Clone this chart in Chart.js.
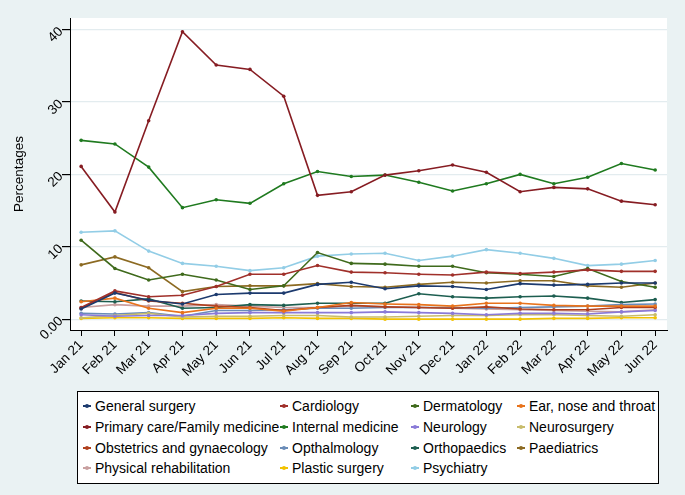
<!DOCTYPE html>
<html>
<head>
<meta charset="utf-8">
<script src="https://cdn.jsdelivr.net/npm/chart.js@4"></script>
<style>
  body { margin: 0; background: #eaf2f3; }
  #wrap { position: relative; width: 685px; height: 495px; background: #eaf2f3; font-family: "Liberation Sans", Arial, sans-serif; }
  #legend { position: absolute; left: 77px; top: 391px; width: 582px; height: 93px; background: #fff; border: 1px solid #000; box-sizing: border-box; }
  .item { position: absolute; font-size: 14px; color: #000; white-space: nowrap; line-height: 16px; }
  .key { display: inline-block; position: relative; width: 8px; height: 16px; vertical-align: top; margin-right: 4px; }
  .key i { position: absolute; left: 0; top: 7px; width: 8px; height: 1.5px; }
  .key b { position: absolute; left: 2px; top: 6px; width: 4px; height: 4px; border-radius: 2px; }
</style>
</head>
<body>
<div id="wrap">
  <canvas id="chart" width="685" height="495"></canvas>
  <div id="legend"></div>
</div>
<script>
// mesi sull'asse x
var months = ['Jan 21','Feb 21','Mar 21','Apr 21','May 21','Jun 21','Jul 21','Aug 21','Sep 21',
              'Oct 21','Nov 21','Dec 21','Jan 22','Feb 22','Mar 22','Apr 22','May 22','Jun 22'];
var yTicks = [0, 10, 20, 30, 40];

var generalSurgery = [1.4,3.6,2.6,2.1,3.4,3.6,3.6,4.8,5.1,4.2,4.6,4.5,4.1,4.9,4.7,4.8,5.0,5.0];
var cardiology     = [1.6,3.9,3.1,3.3,4.5,6.2,6.2,7.4,6.5,6.4,6.2,6.1,6.5,6.3,6.5,6.8,6.6,6.6];
var dermatology    = [10.9,7.0,5.4,6.2,5.4,4.1,4.6,9.2,7.7,7.6,7.3,7.3,6.4,6.2,5.9,7.0,5.2,4.4];
var ent            = [2.4,2.9,1.5,0.9,1.5,1.5,1.1,1.6,2.3,2.1,2.0,1.8,2.2,2.2,1.9,1.8,1.8,1.8];
var primaryCare    = [21.1,14.8,27.4,39.7,35.1,34.5,30.8,17.1,17.6,19.9,20.5,21.3,20.3,17.6,18.2,18.0,16.3,15.8];
var internalMed    = [24.7,24.2,21.0,15.4,16.5,16.0,18.7,20.4,19.7,19.9,18.9,17.7,18.7,20.0,18.7,19.6,21.5,20.6];
var neurology      = [0.6,0.4,0.5,0.5,0.8,0.9,0.9,0.9,0.9,1.0,0.9,0.8,0.6,0.8,0.8,0.7,1.0,1.2];
var neurosurgery   = [0.2,0.5,0.8,0.3,0.4,0.4,0.5,0.5,0.3,0.3,0.4,0.5,0.5,0.6,0.6,0.5,0.4,0.6];
var obstetrics     = [1.5,3.7,2.5,2.2,1.8,1.6,1.2,1.6,1.9,1.7,1.6,1.5,1.7,1.4,1.3,1.3,1.6,1.6];
var opthalmology   = [0.8,0.7,0.9,0.4,1.2,1.2,1.3,1.5,1.5,1.6,1.6,1.6,1.5,1.6,1.7,1.8,2.0,2.1];
var orthopaedics   = [2.5,2.4,2.8,1.5,1.6,2.0,1.9,2.2,2.2,2.2,3.5,3.1,2.9,3.1,3.2,2.9,2.3,2.7];
var paediatrics    = [7.5,8.6,7.1,3.8,4.5,4.6,4.6,4.9,4.5,4.4,4.8,5.1,5.0,5.3,5.3,4.6,4.4,5.0];
var physRehab      = [1.6,2.0,1.8,1.8,2.0,1.8,1.6,1.6,1.8,1.7,1.6,1.5,1.4,1.3,1.2,1.1,1.0,1.3];
var plasticSurgery = [0.1,0.2,0.2,0.1,0.1,0.1,0.2,0.1,0.1,0.0,0.0,0.0,0.0,0.0,0.1,0.1,0.2,0.2];
var psychiatry     = [12.0,12.2,9.4,7.7,7.3,6.7,7.1,8.7,9.0,9.1,8.1,8.7,9.6,9.1,8.4,7.4,7.6,8.1];

var series = [
  ['General surgery', generalSurgery, '#1c3a6e'],
  ['Cardiology', cardiology, '#a0302a'],
  ['Dermatology', dermatology, '#3f6a1c'],
  ['Ear, nose and throat', ent, '#e8731c'],
  ['Primary care/Family medicine', primaryCare, '#861c22'],
  ['Internal medicine', internalMed, '#1f7a1f'],
  ['Neurology', neurology, '#8a7ad8'],
  ['Neurosurgery', neurosurgery, '#c8bc6c'],
  ['Obstetrics and gynaecology', obstetrics, '#b0401e'],
  ['Opthalmology', opthalmology, '#6a8cb8'],
  ['Orthopaedics', orthopaedics, '#1d5e50'],
  ['Paediatrics', paediatrics, '#8c6a22'],
  ['Physical rehabilitation', physRehab, '#c9a0a0'],
  ['Plastic surgery', plasticSurgery, '#f2c200'],
  ['Psychiatry', psychiatry, '#92cde6']
];

var FONT = '"Liberation Sans", Arial, sans-serif';

function buildDatasets(){
  var datasets = [];
  for (var i = 0; i < series.length; i++) {
    var vals = series[i][1];
    var pts = [];
    for (var j = 0; j < vals.length; j++) {
      pts.push({x: j, y: vals[j]});
    }
    datasets.push({
      label: series[i][0],
      data: pts,
      borderColor: series[i][2],
      backgroundColor: series[i][2],
      borderWidth: 1.6,
      pointRadius: 1.8,
      pointBorderWidth: 0,
      tension: 0
    });
  }
  return datasets;
}

// area bianca del grafico + etichette y ruotate
var plotBg = {
  id: 'plotBg',
  beforeDraw: function(chart){
    var a = chart.chartArea;
    var ctx = chart.ctx;
    ctx.save();
    ctx.fillStyle = '#ffffff';
    ctx.fillRect(a.left, a.top, a.right - a.left, a.bottom - a.top);
    ctx.restore();
  },
  afterDraw: function(chart){
    var ctx = chart.ctx;
    var y = chart.scales.y;
    ctx.save();
    ctx.fillStyle = '#000';
    ctx.font = '13.5px ' + FONT;
    ctx.textAlign = 'right';
    ctx.textBaseline = 'middle';
    for (var i = 0; i < yTicks.length; i++) {
      var py = y.getPixelForValue(yTicks[i]);
      ctx.save();
      ctx.translate(y.right - 9, py);
      ctx.rotate(-Math.PI / 4);
      ctx.fillText(yTicks[i] === 0 ? '0.00' : String(yTicks[i]), 0, 0);
      ctx.restore();
    }
    ctx.restore();
  }
};

function printChart(){
  var ctx = document.getElementById('chart');
  new Chart(ctx, {
    type: 'line',
    data: { datasets: buildDatasets() },
    options: {
      responsive: false,
      animation: false,
      layout: { padding: { left: 0, right: 18, top: 18, bottom: 110 } },
      plugins: { legend: { display: false }, tooltip: { enabled: false } },
      scales: {
        x: {
          type: 'linear',
          min: -0.33,
          max: 17.35,
          afterBuildTicks: function(s){ s.ticks = months.map(function(m, i){ return {value: i}; }); },
          afterFit: function(s){ s.height = 55; },
          ticks: {
            autoSkip: false,
            minRotation: 45,
            maxRotation: 45,
            color: '#000',
            padding: 1,
            font: { family: FONT, size: 13.5 },
            callback: function(v){ return months[v]; }
          },
          grid: { drawOnChartArea: false, tickColor: '#000', tickLength: 6 },
          border: { color: '#000', width: 1 }
        },
        y: {
          min: -1.5,
          max: 41.6,
          afterBuildTicks: function(s){ s.ticks = yTicks.map(function(v){ return {value: v}; }); },
          afterFit: function(s){ s.width = 70; },
          ticks: { color: 'rgba(0,0,0,0)', font: { family: FONT, size: 13 } },
          title: { display: true, text: 'Percentages', color: '#000', font: { family: FONT, size: 13.5 }, padding: { top: 11, bottom: 0 } },
          grid: { color: '#e3ecef', lineWidth: 1.2, tickColor: '#000', tickLength: 8 },
          border: { color: '#000', width: 1 }
        }
      }
    },
    plugins: [plotBg]
  });
}

function printLegend(){
  var box = document.getElementById('legend');
  var colX = [5, 202, 333, 439];
  var rowY = [6, 27, 48, 68];
  for (var i = 0; i < series.length; i++) {
    var el = document.createElement('div');
    el.className = 'item';
    el.style.left = colX[i % 4] + 'px';
    el.style.top = rowY[Math.floor(i / 4)] + 'px';
    el.innerHTML = '<span class="key"><i style="background:' + series[i][2] + '"></i><b style="background:' + series[i][2] + '"></b></span>';
    el.appendChild(document.createTextNode(series[i][0]));
    box.appendChild(el);
  }
}

printChart();
printLegend();
</script>
</body>
</html>
